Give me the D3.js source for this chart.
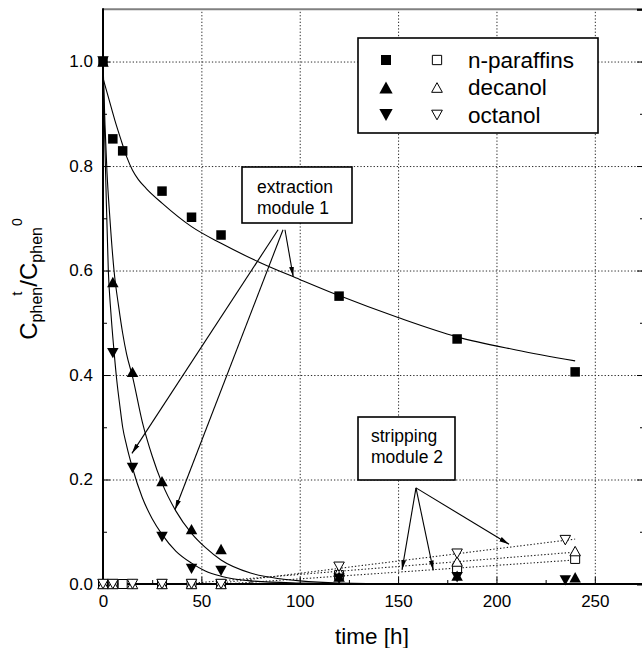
<!DOCTYPE html>
<html>
<head>
<meta charset="utf-8">
<script src="https://cdn.jsdelivr.net/npm/d3@7"></script>
<style>
  html, body { margin: 0; padding: 0; background: #fff; }
  svg { display: block; font-family: "Liberation Sans", Arial, Helvetica, sans-serif; }
</style>
</head>
<body>
<svg id="chart" width="642" height="648"></svg>
<script>
// ---------- data ----------
const seriesNames = ["n-paraffins", "decanol", "octanol"];

// extraction module 1 (filled symbols)
const paraffinsExtT = [0, 5, 10, 30, 45, 60, 120, 180, 240];
const paraffinsExtV = [1.0, 0.852, 0.829, 0.752, 0.702, 0.668, 0.551, 0.469, 0.406];
const decanolExtT   = [0, 5, 15, 30, 45, 60, 120, 180, 240];
const decanolExtV   = [1.0, 0.578, 0.406, 0.197, 0.105, 0.067, 0.014, 0.016, 0.013];
const octanolExtT   = [0, 5, 15, 30, 45, 60, 120, 180, 235];
const octanolExtV   = [1.0, 0.442, 0.222, 0.090, 0.029, 0.025, 0.010, 0.013, 0.007];

// stripping module 2 (open symbols)
const paraffinsStrT = [0, 5, 10, 30, 45, 60, 120, 180, 240];
const paraffinsStrV = [0, 0, 0, 0, 0, 0, 0.017, 0.030, 0.048];
const decanolStrT   = [0, 5, 15, 30, 45, 60, 120, 180, 240];
const decanolStrV   = [0, 0, 0, 0, 0, 0, 0.024, 0.043, 0.063];
const octanolStrT   = [0, 5, 15, 30, 45, 60, 120, 180, 235];
const octanolStrV   = [0, 0, 0, 0, 0, 0, 0.033, 0.058, 0.084];

// fitted extraction curves (solid)
const paraffinsFitT = [0, 3, 6, 9, 12, 15, 18, 22, 30, 45, 60, 80, 100, 120, 150, 180, 210, 240];
const paraffinsFitV = [0.968, 0.928, 0.888, 0.852, 0.818, 0.792, 0.774, 0.757, 0.729, 0.684, 0.652, 0.615, 0.583, 0.552, 0.510, 0.473, 0.448, 0.427];
const decanolFitT   = [0, 1, 2, 3.5, 5.6, 8, 10, 12, 15, 20, 25, 30, 37, 45, 52, 60, 75, 90, 100, 120, 150, 240];
const decanolFitV   = [1.0, 0.88, 0.79, 0.70, 0.60, 0.53, 0.48, 0.44, 0.397, 0.31, 0.245, 0.193, 0.14, 0.097, 0.07, 0.046, 0.021, 0.010, 0.006, 0.002, 0.0005, 0];
const octanolFitT   = [0, 0.7, 1.5, 2.7, 4, 5.5, 7, 8.6, 10, 12, 15, 20, 25, 30, 37, 45, 52, 60, 75, 100, 130, 240];
const octanolFitV   = [1.0, 0.88, 0.76, 0.60, 0.52, 0.45, 0.39, 0.34, 0.30, 0.265, 0.222, 0.165, 0.125, 0.095, 0.063, 0.040, 0.025, 0.015, 0.006, 0.002, 0.0004, 0];

// fitted stripping trends (dotted)
const paraffinsStripFitT = [62, 240];
const paraffinsStripFitV = [0, 0.046];
const decanolStripFitT   = [40, 240];
const decanolStripFitV   = [0, 0.061];
const octanolStripFitT   = [56, 240];
const octanolStripFitV   = [0, 0.086];

// axes
const xTickValues  = [0, 50, 100, 150, 200, 250];
const xMinorTicks  = [25, 75, 125, 175, 225];
const yTickValues  = [0, 0.2, 0.4, 0.6, 0.8, 1.0];
const yTickLabels  = ["0.0", "0.2", "0.4", "0.6", "0.8", "1.0"];
const yMinorTicks  = [0.1, 0.3, 0.5, 0.7, 0.9];
const xGridValues  = [50, 100, 150, 200, 250];
const yGridValues  = [0.2, 0.4, 0.6, 0.8, 1.0];

// annotation arrows: [t, value] start -> end
const extractionArrowStart = [[89.0, 0.678], [91.5, 0.678], [92.5, 0.678]];
const extractionArrowEnd   = [[14.7, 0.250], [36.6, 0.142], [96.7, 0.588]];
const strippingArrowStart  = [[159.1, 0.184], [159.1, 0.184], [159.1, 0.184]];
const strippingArrowEnd    = [[152.0, 0.027], [167.9, 0.026], [206.4, 0.076]];

// ---------- helpers ----------
const zip = (a, b) => a.map((d, i) => [d, b[i]]);

const sqSym = { draw(ctx, s) { ctx.rect(-s / 2, -s / 2, s, s); } };
const upSym = { draw(ctx, s) { const h = s * 0.9; ctx.moveTo(0, -h / 2); ctx.lineTo(s / 2, h / 2); ctx.lineTo(-s / 2, h / 2); ctx.closePath(); } };
const dnSym = { draw(ctx, s) { const h = s * 0.9; ctx.moveTo(0, h / 2); ctx.lineTo(s / 2, -h / 2); ctx.lineTo(-s / 2, -h / 2); ctx.closePath(); } };

const series = [
  { name: seriesNames[0], sym: sqSym, ext: zip(paraffinsExtT, paraffinsExtV), str: zip(paraffinsStrT, paraffinsStrV),
    fit: zip(paraffinsFitT, paraffinsFitV), sfit: zip(paraffinsStripFitT, paraffinsStripFitV), fs: 9.5, os: 9 },
  { name: seriesNames[1], sym: upSym, ext: zip(decanolExtT, decanolExtV), str: zip(decanolStrT, decanolStrV),
    fit: zip(decanolFitT, decanolFitV), sfit: zip(decanolStripFitT, decanolStripFitV), fs: 11.5, os: 10.5 },
  { name: seriesNames[2], sym: dnSym, ext: zip(octanolExtT, octanolExtV), str: zip(octanolStrT, octanolStrV),
    fit: zip(octanolFitT, octanolFitV), sfit: zip(octanolStripFitT, octanolStripFitV), fs: 11.5, os: 10.5 }
];

// ---------- layout ----------
const svg = d3.select("#chart");
const plotL = 103, plotR = 644, plotT = 9.3, plotB = 584;
const x = d3.scaleLinear().domain([0, 275]).range([plotL, plotR]);
const y = d3.scaleLinear().domain([0, 1.1]).range([plotB, plotT]);

svg.append("defs").append("marker")
  .attr("id", "arrowhead")
  .attr("viewBox", "0 0 10 10")
  .attr("refX", 10).attr("refY", 5)
  .attr("markerWidth", 10).attr("markerHeight", 10)
  .attr("markerUnits", "userSpaceOnUse")
  .attr("orient", "auto")
  .append("path").attr("d", "M0,2.6 L10,5 L0,7.4 Z").attr("fill", "#000");

// ---------- grid ----------
const gridStyle = g => {
  g.select(".domain").remove();
  g.selectAll(".tick line").attr("stroke", "#2a2a2a").attr("stroke-width", 1).attr("stroke-dasharray", "1.3,2");
};
svg.append("g").attr("transform", `translate(0,${plotB})`)
  .call(d3.axisBottom(x).tickValues(xGridValues).tickSize(-(plotB - plotT)).tickFormat(""))
  .call(gridStyle);
svg.append("g").attr("transform", `translate(${plotL},0)`)
  .call(d3.axisLeft(y).tickValues(yGridValues).tickSize(-(plotR - plotL)).tickFormat(""))
  .call(gridStyle);

// ---------- fitted curves ----------
const line = d3.line().x(d => x(d[0])).y(d => y(d[1]));
const curve = d3.line().x(d => x(d[0])).y(d => y(d[1])).curve(d3.curveMonotoneX);

series.forEach(s => {
  svg.append("path").datum(s.fit).attr("d", curve)
    .attr("fill", "none").attr("stroke", "#000").attr("stroke-width", 1.1);
  svg.append("path").datum(s.sfit).attr("d", line)
    .attr("fill", "none").attr("stroke", "#222").attr("stroke-width", 1.1).attr("stroke-dasharray", "1.4,2");
});

// ---------- frame & axes ----------
svg.append("line").attr("x1", plotL).attr("x2", plotR).attr("y1", plotT).attr("y2", plotT)
  .attr("stroke", "#808080").attr("stroke-width", 2);

const tickFont = g => g.selectAll("text").attr("font-size", 17).attr("fill", "#000")
  .attr("font-family", "'Liberation Sans', Arial, sans-serif");

// bottom axis
const gx = svg.append("g").attr("transform", `translate(0,${plotB})`)
  .call(d3.axisBottom(x).tickValues(xTickValues).tickSize(-7).tickPadding(11).tickFormat(d3.format("d")));
gx.select(".domain").attr("stroke-width", 2).attr("d", `M${plotL},0H${plotR}`);
gx.selectAll(".tick line").attr("stroke-width", 1);
tickFont(gx);
svg.append("g").attr("transform", `translate(0,${plotB})`)
  .call(d3.axisBottom(x).tickValues(xMinorTicks).tickSize(-4).tickFormat(""))
  .call(g => g.select(".domain").remove());

// left axis
const gy = svg.append("g").attr("transform", `translate(${plotL},0)`)
  .call(d3.axisLeft(y).tickValues(yTickValues).tickSize(-7).tickPadding(10)
    .tickFormat((d, i) => yTickLabels[i]));
gy.select(".domain").attr("stroke-width", 2).attr("d", `M0,${plotT - 1}V${plotB + 1}`);
tickFont(gy);
svg.append("g").attr("transform", `translate(${plotL},0)`)
  .call(d3.axisLeft(y).tickValues(yMinorTicks).tickSize(-4).tickFormat(""))
  .call(g => g.select(".domain").remove());

// right axis (ticks only)
svg.append("g").attr("transform", `translate(${plotR},0)`)
  .call(d3.axisRight(y).tickValues(yTickValues.concat([1.1])).tickSize(-7).tickFormat(""))
  .call(g => g.select(".domain").attr("stroke-width", 2));
svg.append("g").attr("transform", `translate(${plotR},0)`)
  .call(d3.axisRight(y).tickValues(yMinorTicks).tickSize(-4).tickFormat(""))
  .call(g => g.select(".domain").remove());

// ---------- markers ----------
series.forEach(s => {
  svg.append("g").selectAll("path").data(s.str).join("path")
    .attr("transform", d => `translate(${x(d[0])},${y(d[1])})`)
    .attr("d", d3.symbol().type(s.sym).size(s.os))
    .attr("fill", "#fff").attr("stroke", "#000").attr("stroke-width", 1);
});
series.forEach(s => {
  svg.append("g").selectAll("path").data(s.ext).join("path")
    .attr("transform", d => `translate(${x(d[0])},${y(d[1])})`)
    .attr("d", d3.symbol().type(s.sym).size(s.fs))
    .attr("fill", "#000");
});

// ---------- axis titles ----------
svg.append("text").attr("x", 372).attr("y", 644).attr("text-anchor", "middle")
  .attr("font-size", 22.5).text("time [h]");

const yt = svg.append("text").attr("transform", "translate(37,279) rotate(-90)")
  .attr("text-anchor", "middle").attr("font-size", 24);
yt.append("tspan").text("C");
yt.append("tspan").attr("font-size", 16).attr("dy", 5).text("phen");
yt.append("tspan").attr("font-size", 15).attr("dy", -20).attr("dx", -9).text("t");
yt.append("tspan").attr("dy", 15).attr("dx", 5).text("/C");
yt.append("tspan").attr("font-size", 16).attr("dy", 5).text("phen");
yt.append("tspan").attr("font-size", 14).attr("dy", -20).attr("dx", 1).text("0");

// ---------- annotations ----------
function annotate(starts, ends) {
  starts.forEach((s, i) => {
    svg.append("line")
      .attr("x1", x(s[0])).attr("y1", y(s[1]))
      .attr("x2", x(ends[i][0])).attr("y2", y(ends[i][1]))
      .attr("stroke", "#000").attr("stroke-width", 1.1)
      .attr("marker-end", "url(#arrowhead)");
  });
}
annotate(extractionArrowStart, extractionArrowEnd);
annotate(strippingArrowStart, strippingArrowEnd);

function noteBox(x0, y0, w, h, lines, tx, ty) {
  svg.append("rect").attr("x", x0).attr("y", y0).attr("width", w).attr("height", h)
    .attr("fill", "#fff").attr("stroke", "#000").attr("stroke-width", 1.6);
  lines.forEach((t, i) => {
    svg.append("text").attr("x", tx).attr("y", ty + i * 20.5).attr("font-size", 17.5).text(t);
  });
}
noteBox(242, 167, 110, 56, ["extraction", "module 1"], 257, 193);
noteBox(358, 417, 97, 63, ["stripping", "module 2"], 371, 442);

// ---------- legend ----------
svg.append("rect").attr("x", 358).attr("y", 38).attr("width", 240).attr("height", 95)
  .attr("fill", "#fff").attr("stroke", "#000").attr("stroke-width", 1.6);
const legendRows = [60, 87.5, 115];
const legendFilled = [10, 13.3, 13.3];
const legendOpen = [9.3, 10.7, 10.7];
series.forEach((s, i) => {
  const cy = legendRows[i];
  svg.append("path").attr("transform", `translate(386,${cy})`)
    .attr("d", d3.symbol().type(s.sym).size(legendFilled[i])).attr("fill", "#000");
  svg.append("path").attr("transform", `translate(437,${cy})`)
    .attr("d", d3.symbol().type(s.sym).size(legendOpen[i]))
    .attr("fill", "#fff").attr("stroke", "#000").attr("stroke-width", 1);
  svg.append("text").attr("x", 468).attr("y", cy + 7.5).attr("font-size", 22.5).text(s.name);
});
</script>
</body>
</html>
